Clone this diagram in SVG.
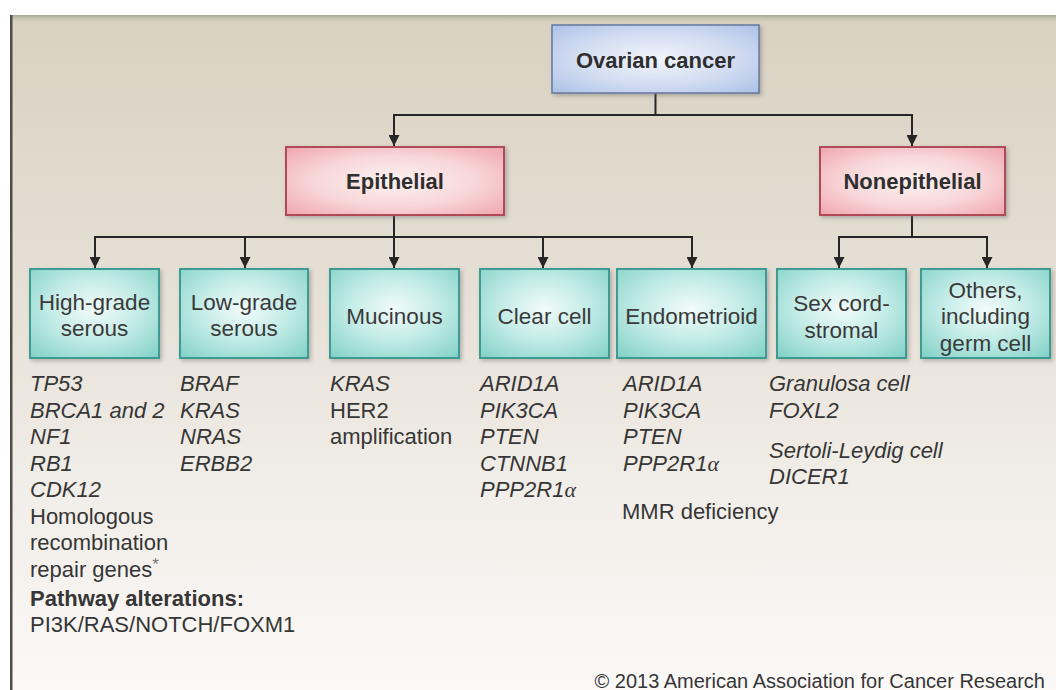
<svg xmlns="http://www.w3.org/2000/svg" width="1056" height="690" viewBox="0 0 1056 690">
<style>
.t{font-family:"Liberation Sans",Arial,Helvetica,sans-serif;font-size:22px;fill:#363636}
.i{font-style:italic}
.b{font-weight:bold}
.c{text-anchor:middle}
.h{font-size:22px;font-weight:bold;fill:#2f2f2f}
.bx{font-size:22.5px;fill:#3a3a3a}
.teal{fill:url(#gTeal);stroke:#3e9b91;stroke-width:2}
.pink{fill:url(#gPink);stroke:#b04a58;stroke-width:2}
.blue{fill:url(#gBlue);stroke:#66789f;stroke-width:1.5}
.ln{fill:none;stroke:#262626;stroke-width:2}
.ar{fill:none;stroke:#262626;stroke-width:2;marker-end:url(#arr)}
.al{font-family:"Liberation Serif","Times New Roman",serif;font-style:italic}
</style>
<defs>
<linearGradient id="gBg" x1="0" y1="0" x2="0" y2="1">
<stop offset="0" stop-color="#d9d2c2"/>
<stop offset="0.35" stop-color="#e4ddd2"/>
<stop offset="0.7" stop-color="#f1ede8"/>
<stop offset="1" stop-color="#fbf9f7"/>
</linearGradient>
<linearGradient id="gTop" x1="0" y1="0" x2="0" y2="1">
<stop offset="0" stop-color="#9fa593" stop-opacity="0.9"/>
<stop offset="1" stop-color="#d9d2c2" stop-opacity="0"/>
</linearGradient>
<radialGradient id="gTeal" cx="0.5" cy="0.45" r="0.75">
<stop offset="0" stop-color="#f1fbfa"/>
<stop offset="0.45" stop-color="#c4ece7"/>
<stop offset="1" stop-color="#7fd0c6"/>
</radialGradient>
<radialGradient id="gPink" cx="0.5" cy="0.5" r="0.75">
<stop offset="0" stop-color="#fdf3f2"/>
<stop offset="0.5" stop-color="#f8d6d8"/>
<stop offset="1" stop-color="#ee9ea8"/>
</radialGradient>
<radialGradient id="gBlue" cx="0.5" cy="0.5" r="0.75">
<stop offset="0" stop-color="#f1f4fb"/>
<stop offset="0.5" stop-color="#d3ddf2"/>
<stop offset="1" stop-color="#a6bde6"/>
</radialGradient>
<filter id="sh" x="-10%" y="-10%" width="125%" height="130%">
<feDropShadow dx="2" dy="2" stdDeviation="2" flood-color="#6a6a6a" flood-opacity="0.45"/>
</filter>
<marker id="arr" viewBox="0 0 10 10" refX="10" refY="5" markerUnits="userSpaceOnUse" markerWidth="12" markerHeight="11" orient="auto">
<path d="M0,0 L10,5 L0,10 z" fill="#262626"/>
</marker>
</defs>

<rect x="0" y="0" width="1056" height="690" fill="#ffffff"/>
<rect x="10" y="15" width="1046" height="675" fill="url(#gBg)"/>
<rect x="10" y="15" width="1046" height="9" fill="url(#gTop)"/>
<rect x="10" y="15" width="2.5" height="675" fill="#524c46"/>

<g id="connectors">
<path class="ln" d="M655.5,93 V115 M394,115 H912"/>
<path class="ar" d="M394,114 V146"/>
<path class="ar" d="M912,114 V146"/>
<path class="ln" d="M394,215 V237 M95,237 H692"/>
<path class="ar" d="M95,236 V268"/>
<path class="ar" d="M245,236 V268"/>
<path class="ar" d="M394,236 V268"/>
<path class="ar" d="M543,236 V268"/>
<path class="ar" d="M692,236 V268"/>
<path class="ln" d="M912,215 V237 M839,237 H987"/>
<path class="ar" d="M839,236 V268"/>
<path class="ar" d="M987,236 V268"/>
</g>

<g id="ovarian">
<rect class="blue" x="552" y="25" width="207" height="68" filter="url(#sh)"/>
<text class="t h c" x="655.5" y="68">Ovarian cancer</text>
</g>
<g id="epithelial">
<rect class="pink" x="286" y="147" width="218" height="68" filter="url(#sh)"/>
<text class="t h c" x="395" y="189">Epithelial</text>
</g>
<g id="nonepithelial">
<rect class="pink" x="820" y="147" width="185" height="68" filter="url(#sh)"/>
<text class="t h c" x="912.5" y="189">Nonepithelial</text>
</g>

<g id="high-grade-serous">
<rect class="teal" x="30" y="269" width="129" height="89" filter="url(#sh)"/>
<text class="t bx c" x="94.5" y="310">High-grade</text>
<text class="t bx c" x="94.5" y="336">serous</text>
</g>
<g id="low-grade-serous">
<rect class="teal" x="180" y="269" width="128" height="89" filter="url(#sh)"/>
<text class="t bx c" x="244" y="310">Low-grade</text>
<text class="t bx c" x="244" y="336">serous</text>
</g>
<g id="mucinous">
<rect class="teal" x="330" y="269" width="129" height="89" filter="url(#sh)"/>
<text class="t bx c" x="394.5" y="324">Mucinous</text>
</g>
<g id="clear-cell">
<rect class="teal" x="480" y="269" width="129" height="89" filter="url(#sh)"/>
<text class="t bx c" x="544.5" y="324">Clear cell</text>
</g>
<g id="endometrioid">
<rect class="teal" x="617" y="269" width="149" height="89" filter="url(#sh)"/>
<text class="t bx c" x="691.5" y="324">Endometrioid</text>
</g>
<g id="sex-cord-stromal">
<rect class="teal" x="777" y="269" width="129" height="89" filter="url(#sh)"/>
<text class="t bx c" x="841.5" y="311">Sex cord-</text>
<text class="t bx c" x="841.5" y="338">stromal</text>
</g>
<g id="others">
<rect class="teal" x="921" y="269" width="129" height="89" filter="url(#sh)"/>
<text class="t bx c" x="985.5" y="298">Others,</text>
<text class="t bx c" x="985.5" y="324">including</text>
<text class="t bx c" x="985.5" y="351">germ cell</text>
</g>

<g id="genes-high-grade">
<text class="t i" x="30" y="391">TP53</text>
<text class="t i" x="30" y="417.5">BRCA1 and 2</text>
<text class="t i" x="30" y="444">NF1</text>
<text class="t i" x="30" y="470.5">RB1</text>
<text class="t i" x="30" y="497">CDK12</text>
<text class="t" x="30" y="523.5">Homologous</text>
<text class="t" x="30" y="550">recombination</text>
<text class="t" x="30" y="576.5">repair genes<tspan style="font-size:17px" dy="-7" fill="#777">*</tspan></text>
<text class="t b" x="30" y="606">Pathway alterations:</text>
<text class="t" x="30" y="632">PI3K/RAS/NOTCH/FOXM1</text>
</g>
<g id="genes-low-grade">
<text class="t i" x="180" y="391">BRAF</text>
<text class="t i" x="180" y="417.5">KRAS</text>
<text class="t i" x="180" y="444">NRAS</text>
<text class="t i" x="180" y="470.5">ERBB2</text>
</g>
<g id="genes-mucinous">
<text class="t i" x="330" y="391">KRAS</text>
<text class="t" x="330" y="417.5">HER2</text>
<text class="t" x="330" y="444">amplification</text>
</g>
<g id="genes-clear-cell">
<text class="t i" x="480" y="391">ARID1A</text>
<text class="t i" x="480" y="417.5">PIK3CA</text>
<text class="t i" x="480" y="444">PTEN</text>
<text class="t i" x="480" y="470.5">CTNNB1</text>
<text class="t i" x="480" y="497">PPP2R1<tspan class="al">α</tspan></text>
</g>
<g id="genes-endometrioid">
<text class="t i" x="623" y="391">ARID1A</text>
<text class="t i" x="623" y="417.5">PIK3CA</text>
<text class="t i" x="623" y="444">PTEN</text>
<text class="t i" x="623" y="470.5">PPP2R1<tspan class="al">α</tspan></text>
<text class="t" x="622" y="519">MMR deficiency</text>
</g>
<g id="genes-sex-cord">
<text class="t i" x="769" y="391">Granulosa cell</text>
<text class="t i" x="769" y="417.5">FOXL2</text>
<text class="t i" x="769" y="458">Sertoli-Leydig cell</text>
<text class="t i" x="769" y="484">DICER1</text>
</g>

<text class="t" x="1045" y="688" text-anchor="end" style="font-size:20px">© 2013 American Association for Cancer Research</text>
</svg>
